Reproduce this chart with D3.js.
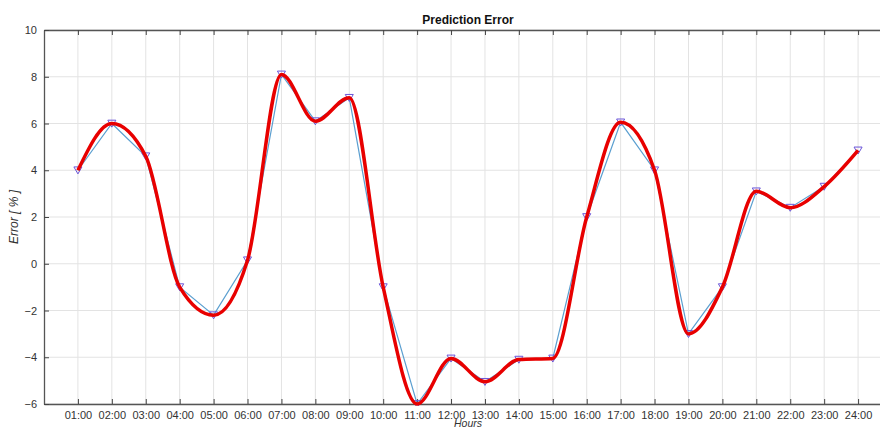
<!DOCTYPE html>
<html>

<head>
    <meta charset="UTF-8">
    <style>
        body { margin: 0; background: #fff; }
        text { font-family: "Liberation Sans", Arial, sans-serif; }
    </style>
</head>

<body>
    <svg></svg>
    <script src="https://d3js.org/d3.v7.min.js"></script>

    <script>

        let width = 880, height = 430;

        // hour labels and measured errors
        const hours = ["01:00", "02:00", "03:00", "04:00", "05:00", "06:00", "07:00", "08:00",
            "09:00", "10:00", "11:00", "12:00", "13:00", "14:00", "15:00", "16:00",
            "17:00", "18:00", "19:00", "20:00", "21:00", "22:00", "23:00", "24:00"];
        const errors = [4.0, 6.0, 4.6, -1.0, -2.2, 0.15, 8.1, 6.1, 7.1, -1.0, -6.0, -4.05,
            -5.05, -4.1, -4.05, 2.0, 6.05, 4.0, -3.0, -1.0, 3.1, 2.4, 3.3, 4.85];
        const yTicks = [-6, -4, -2, 0, 2, 4, 6, 8, 10];

        const data = hours.map((h, i) => ({ h: i + 1, label: h, v: errors[i] }));

        let svg = d3.select("svg")
            .attr("width", width)
            .attr("height", height);

        const mLeft = 44, mRight = 892, mTop = 30, mBottom = 404;

        const x = d3.scaleLinear().domain([0, 25]).range([mLeft, mRight]);
        const y = d3.scaleLinear().domain([-6, 10]).range([mBottom, mTop]);

        // clip
        svg.append("defs").append("clipPath").attr("id", "plot")
            .append("rect")
            .attr("x", mLeft).attr("y", mTop - 2)
            .attr("width", mRight - mLeft).attr("height", mBottom - mTop + 4);

        // grid
        let grid = svg.append("g");
        grid.selectAll(".gx")
            .data(data)
            .enter().append("line")
            .attr("x1", d => x(d.h)).attr("x2", d => x(d.h))
            .attr("y1", mTop).attr("y2", mBottom)
            .attr("stroke", "#e3e3e3").attr("stroke-width", 1);
        grid.selectAll(".gy")
            .data(yTicks)
            .enter().append("line")
            .attr("x1", mLeft).attr("x2", mRight)
            .attr("y1", d => y(d)).attr("y2", d => y(d))
            .attr("stroke", "#e3e3e3").attr("stroke-width", 1);

        // axes
        const xAxis = d3.axisBottom(x)
            .tickValues(data.map(d => d.h))
            .tickFormat((d, i) => hours[i])
            .tickSizeInner(-5).tickSizeOuter(0).tickPadding(7);
        const xTop = d3.axisTop(x)
            .tickValues(data.map(d => d.h))
            .tickFormat("")
            .tickSizeInner(-5).tickSizeOuter(0);
        const yAxis = d3.axisLeft(y)
            .tickValues(yTicks)
            .tickSizeInner(-5).tickSizeOuter(0).tickPadding(7);

        let gx = svg.append("g")
            .attr("transform", "translate(0," + mBottom + ")")
            .call(xAxis);
        let gt = svg.append("g")
            .attr("transform", "translate(0," + mTop + ")")
            .call(xTop);
        let gy = svg.append("g")
            .attr("transform", "translate(" + mLeft + ",0)")
            .call(yAxis);

        [gx, gt, gy].forEach(g => {
            g.select(".domain").attr("stroke", "#555").attr("stroke-width", 1.3);
            g.selectAll(".tick line").attr("stroke", "#444");
            g.selectAll(".tick text").attr("fill", "#333").style("font-size", "11px");
        });

        // measured line with markers
        let plot = svg.append("g").attr("clip-path", "url(#plot)");

        plot.append("path")
            .datum(data)
            .attr("fill", "none")
            .attr("stroke", "#5b9fd0")
            .attr("stroke-width", 1.2)
            .attr("d", d3.line().x(d => x(d.h)).y(d => y(d.v)));

        const tri = d3.symbol().type(d3.symbolTriangle).size(28);
        plot.selectAll(".mk")
            .data(data)
            .enter().append("path")
            .attr("d", tri)
            .attr("transform", d => "translate(" + x(d.h) + "," + (y(d.v) - 1) + ") rotate(180)")
            .attr("fill", "none")
            .attr("stroke", "#6a55d8")
            .attr("stroke-width", 1);

        // smoothed line
        plot.append("path")
            .datum(data)
            .attr("fill", "none")
            .attr("stroke", "#e80000")
            .attr("stroke-width", 3.5)
            .attr("d", d3.line().curve(d3.curveMonotoneX).x(d => x(d.h)).y(d => y(d.v)));

        // labels
        svg.append("text")
            .attr("x", (mLeft + mRight) / 2)
            .attr("y", 24)
            .attr("text-anchor", "middle")
            .style("font-size", "12px")
            .style("font-weight", "bold")
            .attr("fill", "#111")
            .text("Prediction Error");

        svg.append("text")
            .attr("transform", "translate(18," + ((mTop + mBottom) / 2) + ") rotate(-90)")
            .attr("text-anchor", "middle")
            .style("font-size", "12px")
            .style("font-style", "italic")
            .attr("fill", "#333")
            .text("Error [ % ]");

        svg.append("text")
            .attr("x", (mLeft + mRight) / 2)
            .attr("y", 427)
            .attr("text-anchor", "middle")
            .style("font-size", "10.5px")
            .style("font-style", "italic")
            .attr("fill", "#333")
            .text("Hours");
    </script>

</body>

</html>
